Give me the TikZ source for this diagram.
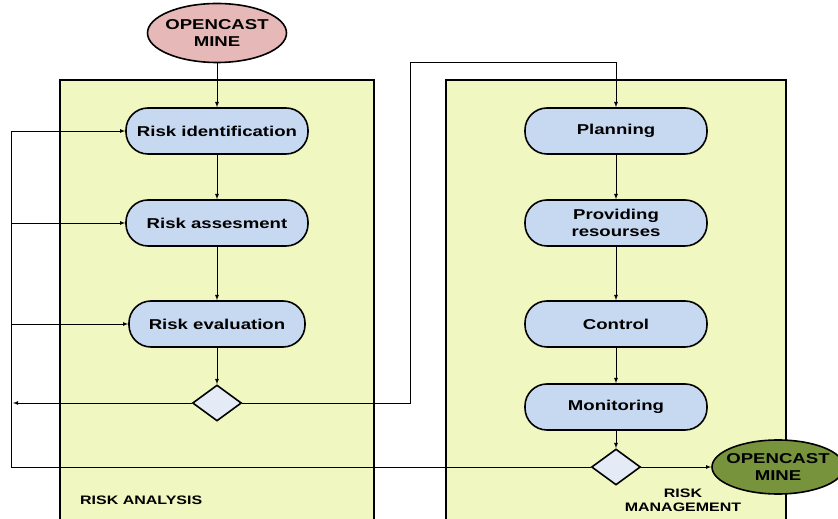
\documentclass[tikz,border=0pt]{standalone}
\usepackage{fontspec}
\setmainfont{Liberation Sans}[FakeStretch=1.3]
\usepackage{xcolor}
\usepackage{tikz}
\usetikzlibrary{shapes.geometric, arrows}
\definecolor{lanefill}{RGB}{240,247,192}
\definecolor{boxfill}{RGB}{198,217,240}
\definecolor{minered}{RGB}{230,184,183}
\definecolor{minegreen}{RGB}{119,147,60}
\definecolor{decfill}{RGB}{228,234,246}
\tikzstyle{startstop} = [ellipse, minimum width=138pt, minimum height=59pt, inner xsep=-2.5pt, inner ysep=0pt, text centered, align=center, draw=black, line width=1.6pt, fill=minered, font=\fontsize{14.3}{17}\selectfont\bfseries]
\tikzstyle{process} = [rectangle, rounded corners=22pt, minimum width=182pt, minimum height=46pt, inner sep=0pt, text centered, align=center, draw=black, line width=1.6pt, fill=boxfill, font=\fontsize{14.3}{17}\selectfont\bfseries]
\tikzstyle{decision} = [diamond, minimum width=49pt, minimum height=36pt, inner sep=0pt, draw=black, line width=1.6pt, fill=decfill]
\tikzstyle{lane} = [draw=black, line width=2.5pt, fill=lanefill]
\tikzstyle{lanelabel} = [inner sep=0pt, align=center, font=\fontsize{12.3}{14}\selectfont\bfseries]
\tikzstyle{arrow} = [line width=0.8pt,->,>=latex]
\tikzstyle{line} = [line width=0.8pt]

\begin{document}
\begin{tikzpicture}[x=1pt, y=1pt, node distance=92pt]
	\useasboundingbox (0,0) rectangle (838,519);
	
	% swimlanes
	\draw [lane] (60,-10) rectangle (374,439);
	\draw [lane] (446,-10) rectangle (786,439);
	\node (l1) [lanelabel, anchor=west] at (80,19) {RISK ANALYSIS};
	\node (l2) [lanelabel] at (683,19) {RISK\\MANAGEMENT};
	
	\node (p1) [startstop] at (217,486) {OPENCAST\\MINE};
	\node (p2) [process, node distance=98pt, below of = p1] {Risk identification};
	\node (p3) [process, below of = p2] {Risk assesment};
	\node (p4) [process, minimum width=176pt, node distance=101pt, below of = p3] {Risk evaluation};
	\node (p5) [decision, node distance=79pt, below of = p4] {};
	
	\draw [arrow] (p1) -- (p2);
	\draw [arrow] (p2) -- (p3);
	\draw [arrow] (p3) -- (p4);
	\draw [arrow] (p4) -- (p5);
	
	\node (p6) [process] at (616,388) {Planning};
	\node (p7) [process, below of = p6] {Providing\\resourses};
	\node (p8) [process, node distance=101pt, below of = p7] {Control};
	\node (p9) [process, node distance=83pt, below of = p8] {Monitoring};
	\node (p10) [decision, node distance=60pt, below of = p9] {};
	\node (p11) [startstop, fill=minegreen, minimum width=132pt, minimum height=54pt, inner xsep=-5pt, node distance=162pt, right of = p10] {OPENCAST\\MINE};
	
	\draw [arrow] (p6) -- (p7);
	\draw [arrow] (p7) -- (p8);
	\draw [arrow] (p8) -- (p9);
	\draw [arrow] (p9) -- (p10);
	\draw [arrow] (p10) -- (p11);
	
	% from analysis over to management
	\coordinate (up) at (410,457);
	\draw [arrow] (p5.east) -| (up) -| (p6.north);
	
	% feedback loop on the left
	\coordinate (fb) at (11,388);
	\draw [line] (p10.west) -| (fb);
	\draw [arrow] (fb) -- (p2.west);
	\draw [arrow] (fb |- p3) -- (p3.west);
	\draw [arrow] (fb |- p4) -- (p4.west);
	\draw [arrow] (p5.west) -- ([xshift=2pt]fb |- p5);
	
\end{tikzpicture}
\end{document}
